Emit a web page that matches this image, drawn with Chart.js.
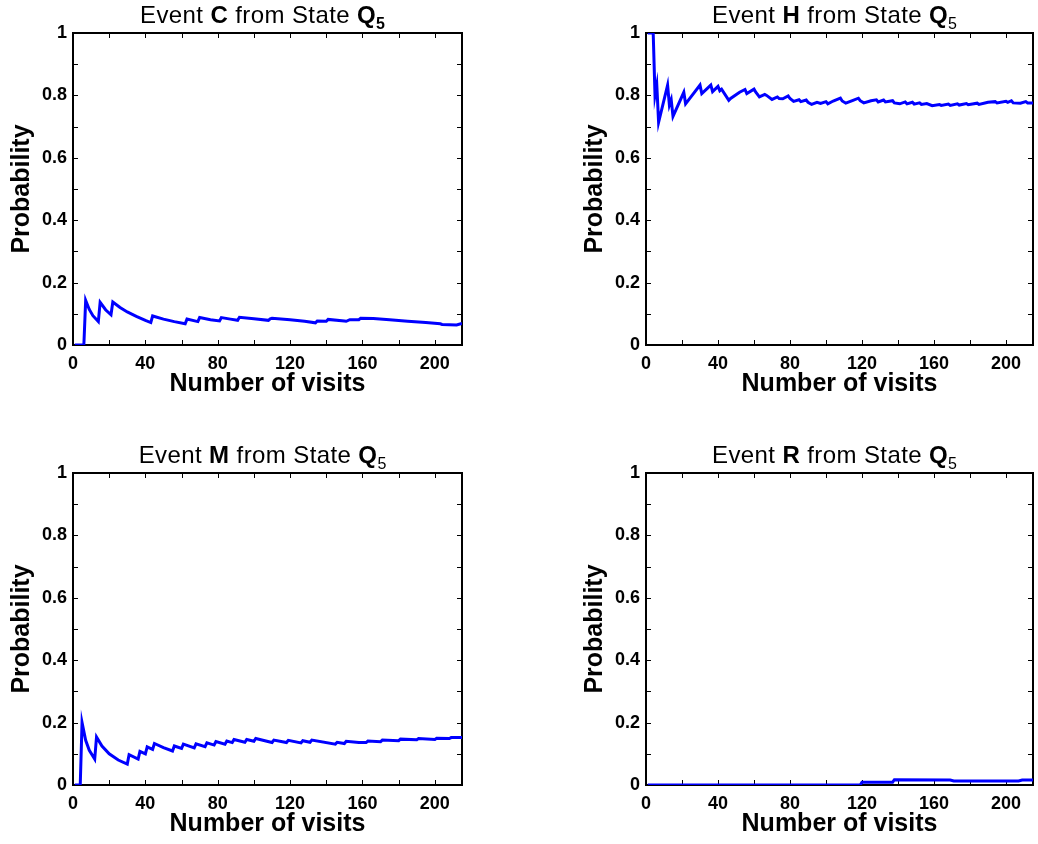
<!DOCTYPE html>
<html>
<head>
<meta charset="utf-8">
<script src="https://cdn.jsdelivr.net/npm/chart.js@4.4.0/dist/chart.umd.min.js"></script>
<style>
  html, body { margin: 0; padding: 0; background: #fff; }
  #fig { position: relative; width: 1038px; height: 844px; overflow: hidden; background: #fff;
         font-family: "Liberation Sans", Arial, Helvetica, sans-serif; }
  #fig canvas { position: absolute; }
  .ttl { position: absolute; width: 320px; text-align: center; font-size: 24px; line-height: 24px;
         letter-spacing: 0.4px; color: #000; white-space: nowrap; }
  .ttl sub { font-size: 16px; vertical-align: -6px; line-height: 0; letter-spacing: 0; }
</style>
</head>
<body>
<div id="fig"></div>
<script>
// values (cumulative frequency vs. number of visits)
const events = ["C", "H", "M", "R"];
const xTickValues = [0, 20, 40, 60, 80, 100, 120, 140, 160, 180, 200];
const yTickValues = [0, 0.1, 0.2, 0.3, 0.4, 0.5, 0.6, 0.7, 0.8, 0.9, 1];
const xTicksShown = [0, 40, 80, 120, 160, 200];
const yTicksShown = [0, 0.2, 0.4, 0.6, 0.8, 1];

const visitsC = [1, 6, 7, 9, 11, 14, 15, 18, 21, 22, 26, 30, 35, 40, 43, 44, 50, 56, 62, 63, 69, 70, 76, 81, 82, 87, 91, 92, 100, 108, 109, 110, 120, 128, 134, 135, 140, 141, 150, 151, 153, 158, 159, 166, 175, 185, 195, 203, 204, 212, 215];
const probC   = [0, 0, 0.143, 0.114, 0.094, 0.075, 0.137, 0.113, 0.097, 0.138, 0.12, 0.106, 0.092, 0.079, 0.072, 0.093, 0.083, 0.075, 0.068, 0.083, 0.075, 0.088, 0.081, 0.077, 0.088, 0.083, 0.079, 0.089, 0.084, 0.079, 0.084, 0.086, 0.081, 0.076, 0.071, 0.077, 0.076, 0.082, 0.077, 0.076, 0.081, 0.081, 0.086, 0.085, 0.081, 0.076, 0.072, 0.068, 0.066, 0.064, 0.069];

const visitsH = [1, 4, 5, 6, 7, 12, 13, 14, 15, 21, 22, 30, 31, 36, 37, 40, 41, 42, 46, 47, 52, 55, 56, 60, 61, 63, 66, 67, 70, 73, 74, 76, 79, 80, 82, 85, 86, 89, 90, 92, 95, 97, 100, 101, 104, 108, 109, 111, 115, 118, 119, 121, 125, 128, 129, 132, 133, 137, 138, 141, 144, 145, 148, 149, 152, 153, 156, 159, 163, 164, 168, 169, 173, 174, 178, 179, 184, 185, 190, 194, 195, 200, 201, 203, 204, 208, 211, 212, 215];
const probH   = [1, 1, 0.8, 0.833, 0.714, 0.833, 0.769, 0.786, 0.733, 0.81, 0.773, 0.833, 0.806, 0.833, 0.812, 0.829, 0.815, 0.82, 0.784, 0.79, 0.81, 0.819, 0.806, 0.82, 0.81, 0.795, 0.803, 0.8, 0.787, 0.795, 0.79, 0.789, 0.798, 0.79, 0.781, 0.786, 0.78, 0.785, 0.778, 0.771, 0.778, 0.774, 0.78, 0.773, 0.782, 0.791, 0.782, 0.775, 0.784, 0.791, 0.783, 0.776, 0.783, 0.786, 0.779, 0.785, 0.779, 0.783, 0.776, 0.773, 0.779, 0.773, 0.778, 0.772, 0.776, 0.771, 0.774, 0.767, 0.771, 0.768, 0.772, 0.768, 0.773, 0.769, 0.774, 0.77, 0.775, 0.771, 0.778, 0.78, 0.776, 0.781, 0.778, 0.783, 0.776, 0.775, 0.78, 0.776, 0.776];

const visitsM = [1, 4, 5, 7, 9, 12, 13, 16, 20, 25, 30, 31, 36, 37, 40, 41, 44, 45, 50, 55, 56, 60, 61, 67, 68, 73, 74, 78, 79, 84, 85, 88, 89, 95, 96, 100, 101, 110, 111, 118, 119, 126, 127, 131, 132, 145, 146, 150, 151, 158, 162, 163, 170, 171, 180, 181, 190, 191, 200, 201, 208, 209, 215];
const probM   = [0, 0, 0.2, 0.143, 0.111, 0.083, 0.154, 0.125, 0.1, 0.08, 0.067, 0.097, 0.083, 0.108, 0.1, 0.122, 0.114, 0.133, 0.12, 0.109, 0.125, 0.117, 0.131, 0.119, 0.132, 0.123, 0.135, 0.128, 0.139, 0.131, 0.141, 0.136, 0.146, 0.137, 0.146, 0.14, 0.149, 0.136, 0.144, 0.136, 0.143, 0.135, 0.142, 0.137, 0.144, 0.131, 0.137, 0.133, 0.14, 0.136, 0.136, 0.141, 0.139, 0.144, 0.142, 0.147, 0.145, 0.149, 0.146, 0.15, 0.149, 0.152, 0.152];

const visitsR = [1, 119, 120, 137, 138, 169, 171, 207, 209, 215];
const probR   = [0, 0, 0.009, 0.009, 0.017, 0.016, 0.013, 0.013, 0.016, 0.016];

const seriesX = [visitsC, visitsH, visitsM, visitsR];
const seriesY = [probC, probH, probM, probR];
const subBold = [true, false, false, false];

const panels = [
  { left: 0,   top: 0,   w: 519, padR: 57 },
  { left: 573, top: 0,   w: 465, padR: 5 },
  { left: 0,   top: 440, w: 519, padR: 57 },
  { left: 573, top: 440, w: 465, padR: 5 }
];

const FONT = '"Liberation Sans", Arial, Helvetica, sans-serif';
const tickFont = { family: FONT, size: 18, weight: "bold" };
const axisFont = { family: FONT, size: 25, weight: "bold" };

// MATLAB-style box with inward tick marks on all four sides
const boxTicks = {
  id: "boxTicks",
  beforeDatasetsDraw(chart) {
    const { ctx, chartArea: a, scales: { x, y } } = chart;
    ctx.save();
    ctx.strokeStyle = "#000";
    ctx.lineWidth = 1;
    ctx.beginPath();
    x.ticks.forEach(t => {
      const px = Math.round(x.getPixelForValue(t.value)) + 0.5;
      if (px <= a.left + 2 || px >= a.right - 2) return;
      ctx.moveTo(px, a.bottom); ctx.lineTo(px, a.bottom - 5);
      ctx.moveTo(px, a.top); ctx.lineTo(px, a.top + 5);
    });
    y.ticks.forEach(t => {
      const py = Math.round(y.getPixelForValue(t.value)) + 0.5;
      if (py <= a.top + 2 || py >= a.bottom - 2) return;
      ctx.moveTo(a.left, py); ctx.lineTo(a.left + 5, py);
      ctx.moveTo(a.right, py); ctx.lineTo(a.right - 5, py);
    });
    ctx.stroke();
    ctx.lineWidth = 2;
    ctx.strokeRect(a.left, a.top, a.right - a.left, a.bottom - a.top);
    ctx.restore();
  }
};

const fig = document.getElementById("fig");

panels.forEach((p, i) => {
  const canvas = document.createElement("canvas");
  canvas.width = p.w;
  canvas.height = 422;
  canvas.style.left = p.left + "px";
  canvas.style.top = p.top + "px";
  canvas.style.width = p.w + "px";
  canvas.style.height = "422px";
  fig.appendChild(canvas);

  const ttl = document.createElement("div");
  ttl.className = "ttl";
  ttl.style.left = (p.left + 73 + (p.w - 73 - p.padR) / 2 - 5 - 160) + "px";
  ttl.style.top = (p.top + 3) + "px";
  const sub = subBold[i] ? "<b>Q<sub>5</sub></b>" : "<b>Q</b><sub>5</sub>";
  ttl.innerHTML = "Event <b>" + events[i] + "</b> from State " + sub;
  fig.appendChild(ttl);

  const points = seriesX[i].map((v, k) => ({ x: v, y: seriesY[i][k] }));

  new Chart(canvas.getContext("2d"), {
    type: "line",
    data: {
      datasets: [{
        data: points,
        borderColor: "#0000ff",
        borderWidth: 3,
        pointRadius: 0,
        tension: 0,
        fill: false
      }]
    },
    options: {
      responsive: false,
      animation: false,
      devicePixelRatio: 1,
      layout: { padding: { top: 33, right: p.padR, bottom: 0, left: 0 } },
      plugins: { legend: { display: false }, tooltip: { enabled: false } },
      scales: {
        x: {
          type: "linear",
          min: 0,
          max: 215,
          afterBuildTicks: s => { s.ticks = xTickValues.map(v => ({ value: v })); },
          afterFit: s => { s.height = 77; },
          grid: { display: false, drawTicks: false },
          border: { display: false },
          ticks: {
            autoSkip: false,
            maxRotation: 0,
            padding: 8,
            color: "#000",
            font: tickFont,
            callback: v => (xTicksShown.includes(v) ? String(v) : "")
          },
          title: {
            display: true,
            text: "Number of visits",
            color: "#000",
            font: axisFont,
            padding: { top: 0, bottom: 23 }
          }
        },
        y: {
          min: 0,
          max: 1,
          afterBuildTicks: s => { s.ticks = yTickValues.map(v => ({ value: v })); },
          afterFit: s => { s.width = 73; },
          grid: { display: false, drawTicks: false },
          border: { display: false },
          ticks: {
            autoSkip: false,
            padding: 6,
            color: "#000",
            font: tickFont,
            callback: v => {
              const r = Math.round(v * 10) / 10;
              return yTicksShown.includes(r) ? String(r) : "";
            }
          },
          title: {
            display: true,
            text: "Probability",
            color: "#000",
            font: axisFont,
            padding: { top: 7, bottom: 0 }
          }
        }
      }
    },
    plugins: [boxTicks]
  });
});
</script>
</body>
</html>
